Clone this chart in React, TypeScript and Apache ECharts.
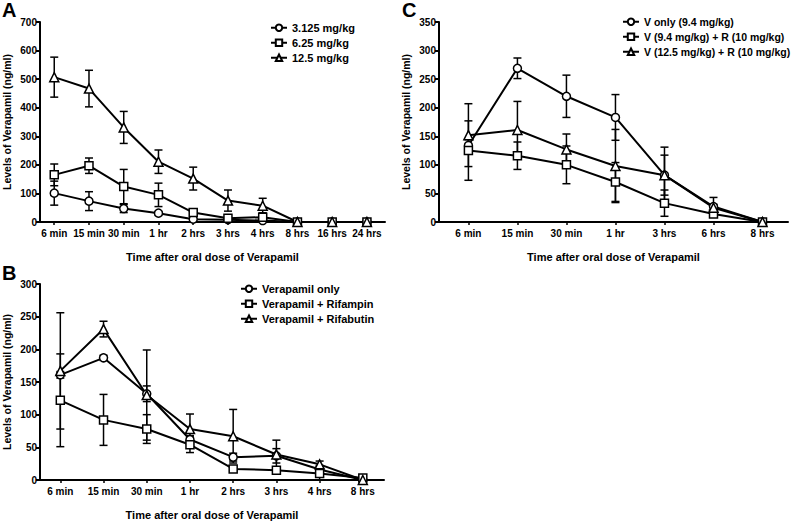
import React, { useEffect, useRef } from "react";
import * as echarts from "echarts";

// Panel A
const catsA = ["6 min", "15 min", "30 min", "1 hr", "2 hrs", "3 hrs", "4 hrs", "8 hrs", "16 hrs", "24 hrs"];
const namesA = ["3.125 mg/kg", "6.25 mg/kg", "12.5 mg/kg"];
const A1 = [101, 73, 47, 31, 10, 8, 5, 0, 0, 0];
const A1err = [42, 33, 14, 5, 3, 3, 3, 0, 0, 0];
const A2 = [165, 197, 124, 95, 33, 13, 17, 0, 0, 0];
const A2err = [38, 27, 60, 41, 10, 6, 15, 0, 0, 0];
const A3 = [507, 467, 331, 211, 152, 75, 57, 0, 0, 0];
const A3err = [70, 64, 56, 41, 40, 37, 26, 0, 0, 0];

// Panel B
const catsB = ["6 min", "15 min", "30 min", "1 hr", "2 hrs", "3 hrs", "4 hrs", "8 hrs"];
const namesB = ["Verapamil only", "Verapamil + Rifampin", "Verapamil + Rifabutin"];
const B1 = [161, 187, 132, 62, 35, 37, 16, 0];
const B1err = [5, 4, 12, 6, 6, 11, 6, 0];
const B2 = [122, 92, 78, 54, 17, 15, 10, 3];
const B2err = [71, 39, 22, 12, 3, 3, 10, 2];
const B3 = [167, 231, 130, 78, 67, 39, 24, 0];
const B3err = [89, 12, 69, 23, 41, 22, 5, 0];

// Panel C
const catsC = ["6 min", "15 min", "30 min", "1 hr", "3 hrs", "6 hrs", "8 hrs"];
const namesC = ["V only (9.4 mg/kg)", "V (9.4 mg/kg) + R (10 mg/kg)", "V (12.5 mg/kg) + R (10 mg/kg)"];
const C1 = [134, 269, 220, 183, 82, 27, 0];
const C1err = [10, 18, 37, 40, 49, 16, 0];
const C2 = [125, 116, 100, 70, 33, 14, 0];
const C2err = [52, 24, 33, 34, 23, 5, 0];
const C3 = [152, 161, 127, 98, 82, 25, 0];
const C3err = [55, 50, 27, 64, 35, 6, 0];

const symbols = ["circle", "rect", "triangle"];
const FONT = "'Liberation Sans', Arial, sans-serif";

function lineSeries(name: string, vals: number[], sym: string, idx: number) {
  return {
    type: "line",
    name,
    xAxisIndex: idx,
    yAxisIndex: idx,
    data: vals.map((v, i) => [i, v]),
    symbol: sym,
    symbolSize: sym === "triangle" ? 9 : 8,
    itemStyle: { color: "#fff", borderColor: "#000", borderWidth: 1.5 },
    lineStyle: { color: "#000", width: 2 },
    z: 3,
  };
}

function errSeries(vals: number[], errs: number[], idx: number) {
  return {
    type: "custom",
    xAxisIndex: idx,
    yAxisIndex: idx,
    z: 2,
    silent: true,
    data: vals.map((v, i) => [i, v - errs[i], v + errs[i]]),
    renderItem: (params: any, api: any) => {
      const x = api.value(0);
      const lo = api.coord([x, api.value(1)]);
      const hi = api.coord([x, api.value(2)]);
      const w = 4;
      const style = { stroke: "#000", lineWidth: 1.5 };
      return {
        type: "group",
        children: [
          { type: "line", shape: { x1: lo[0], y1: lo[1], x2: hi[0], y2: hi[1] }, style },
          { type: "line", shape: { x1: hi[0] - w, y1: hi[1], x2: hi[0] + w, y2: hi[1] }, style },
          { type: "line", shape: { x1: lo[0] - w, y1: lo[1], x2: lo[0] + w, y2: lo[1] }, style },
        ],
      };
    },
  };
}

function xAxis(idx: number, cats: string[], min: number, max: number) {
  const vals = cats.map((_, i) => i);
  return {
    type: "value",
    gridIndex: idx,
    min,
    max,
    name: "Time after oral dose of Verapamil",
    nameLocation: "middle",
    nameGap: 29,
    nameTextStyle: { fontFamily: FONT, fontWeight: "bold", fontSize: 11, color: "#000" },
    axisLine: { onZero: false, lineStyle: { color: "#000", width: 2 } },
    axisTick: { show: true, length: 3, customValues: vals, lineStyle: { color: "#000", width: 1.5 } },
    axisLabel: {
      customValues: vals,
      formatter: (v: number) => cats[Math.round(v)],
      fontFamily: FONT,
      fontWeight: "bold",
      fontSize: 10,
      color: "#000",
      margin: 6,
    },
    splitLine: { show: false },
  };
}

function yAxis(idx: number, max: number, interval: number) {
  return {
    type: "value",
    gridIndex: idx,
    min: 0,
    max,
    interval,
    name: "Levels of Verapamil (ng/ml)",
    nameLocation: "middle",
    nameGap: 28,
    nameTextStyle: { fontFamily: FONT, fontWeight: "bold", fontSize: 10.5, color: "#000" },
    axisLine: { show: true, onZero: false, lineStyle: { color: "#000", width: 2 } },
    axisTick: { show: true, length: 4, lineStyle: { color: "#000", width: 2 } },
    axisLabel: { fontFamily: FONT, fontWeight: "bold", fontSize: 10, color: "#000", margin: 3 },
    splitLine: { show: false },
  };
}

function legend(names: string[], left: number, top: number, fontSize: number) {
  return {
    data: names,
    orient: "vertical",
    left,
    top,
    itemWidth: 16,
    itemHeight: 8,
    itemGap: 3.5,
    padding: 0,
    textStyle: { fontFamily: FONT, fontWeight: "bold", fontSize, lineHeight: 11.5, color: "#000" },
  };
}

export default function App() {
  const ref = useRef<HTMLDivElement>(null);
  useEffect(() => {
    if (!ref.current) return;
    const chart = echarts.init(ref.current, null, { renderer: "svg" });
    chart.setOption({
      animation: false,
      backgroundColor: "#fff",
      grid: [
        { left: 38, top: 22, width: 347, height: 200 },
        { left: 39, top: 284, width: 345, height: 200 },
        { left: 439, top: 22, width: 349, height: 200 },
      ],
      xAxis: [xAxis(0, catsA, -0.41, 9.52), xAxis(1, catsB, -0.47, 7.49), xAxis(2, catsC, -0.6, 6.52)],
      yAxis: [yAxis(0, 700, 100), yAxis(1, 300, 50), yAxis(2, 350, 50)],
      legend: [legend(namesA, 270, 22, 11), legend(namesB, 240, 283, 11), legend(namesC, 622, 16, 10.5)],
      graphic: [
        { type: "text", left: 2, top: 0, style: { text: "A", fontFamily: FONT, fontWeight: "bold", fontSize: 20, fill: "#000" } },
        { type: "text", left: 2, top: 263, style: { text: "B", fontFamily: FONT, fontWeight: "bold", fontSize: 20, fill: "#000" } },
        { type: "text", left: 402, top: 0, style: { text: "C", fontFamily: FONT, fontWeight: "bold", fontSize: 20, fill: "#000" } },
      ],
      series: [
        errSeries(A1, A1err, 0),
        errSeries(A2, A2err, 0),
        errSeries(A3, A3err, 0),
        lineSeries(namesA[0], A1, symbols[0], 0),
        lineSeries(namesA[1], A2, symbols[1], 0),
        lineSeries(namesA[2], A3, symbols[2], 0),
        errSeries(B1, B1err, 1),
        errSeries(B2, B2err, 1),
        errSeries(B3, B3err, 1),
        lineSeries(namesB[0], B1, symbols[0], 1),
        lineSeries(namesB[1], B2, symbols[1], 1),
        lineSeries(namesB[2], B3, symbols[2], 1),
        errSeries(C1, C1err, 2),
        errSeries(C2, C2err, 2),
        errSeries(C3, C3err, 2),
        lineSeries(namesC[0], C1, symbols[0], 2),
        lineSeries(namesC[1], C2, symbols[1], 2),
        lineSeries(namesC[2], C3, symbols[2], 2),
      ],
    });
    return () => chart.dispose();
  }, []);
  return <div ref={ref} style={{ width: 793, height: 521, position: "absolute", left: 0, top: 0 }} />;
}
